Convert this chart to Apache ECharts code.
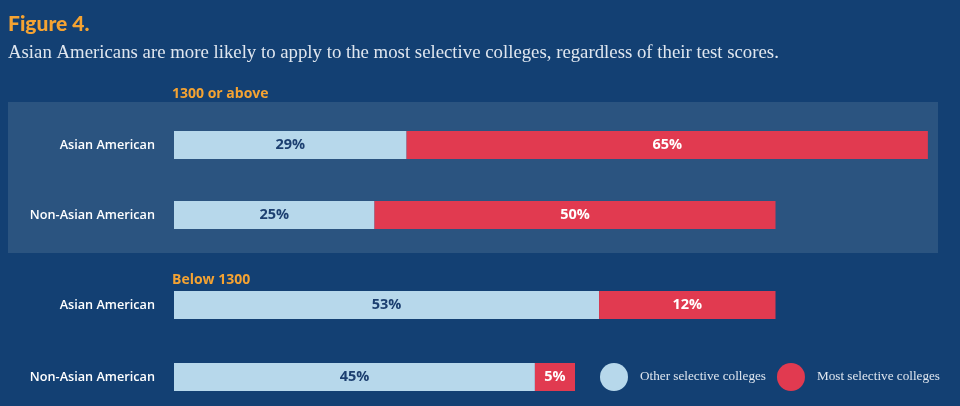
<!DOCTYPE html>
<html>
<head>
<meta charset="utf-8">
<script src="https://cdn.jsdelivr.net/npm/echarts@6/dist/echarts.min.js"></script>
<style>
html,body{margin:0;padding:0;background:#134073;}
#c{width:960px;height:406px;}
</style>
</head>
<body>
<div id="c"></div>
<script>
var categories = ['Asian American', 'Non-Asian American'];
var groupTitles = ['1300 or above', 'Below 1300'];
var otherTop = [29, 25];
var mostTop = [65, 50];
var otherBottom = [53, 45];
var mostBottom = [22, 5];
var otherTopLabels = ['29%', '25%'];
var mostTopLabels = ['65%', '50%'];
var otherBottomLabels = ['53%', '45%'];
var mostBottomLabels = ['12%', '5%'];
var seriesNames = ['Other selective colleges', 'Most selective colleges'];

var LIGHT = '#b7d8eb', RED = '#e13a50', ORANGE = '#f5a332';
var sans = '"Open Sans", sans-serif', serif = '"Liberation Serif", serif';

function barLabel(labels, color) {
  return {
    show: true, position: 'inside', color: color, fontFamily: sans,
    fontWeight: 700, fontSize: 14.5,
    formatter: function (p) { return labels[p.dataIndex]; }
  };
}

var chart = echarts.init(document.getElementById('c'));
var yAxisBase = {
  type: 'category', data: categories, inverse: true,
  axisLine: { show: false }, axisTick: { show: false },
  axisLabel: { color: '#ffffff', fontFamily: sans, fontWeight: 600, fontSize: 12.7, margin: 19 }
};
var xAxisBase = { type: 'value', min: 0, max: 100, show: false };

chart.setOption({
  backgroundColor: '#134073',
  animation: false,
  graphic: [
    { type: 'rect', z: -10, shape: { x: 8, y: 102, width: 930, height: 151 }, style: { fill: '#2b5480' } },
    { type: 'text', left: 8, top: 14, style: { text: 'Figure 4.', fill: ORANGE, font: '900 21px Lato, sans-serif' } },
    { type: 'text', left: 8, top: 44, style: { text: 'Asian Americans are more likely to apply to the most selective colleges, regardless of their test scores.', fill: '#dfe6ef', font: '18.8px ' + serif } },
    { type: 'text', left: 172, top: 87, style: { text: groupTitles[0], fill: ORANGE, font: '700 14px ' + sans } },
    { type: 'text', left: 172, top: 273, style: { text: groupTitles[1], fill: ORANGE, font: '700 14px ' + sans } }
  ],
  legend: {
    left: 600, top: 363, padding: 0, icon: 'circle', itemWidth: 28, itemHeight: 28, itemGap: 11,
    data: seriesNames,
    textStyle: { color: '#dfe6ef', fontFamily: serif, fontSize: 13.2, padding: [0, 0, 0, 7] }
  },
  grid: [
    { left: 174, top: 110, width: 802, height: 140, outerBoundsMode: 'none' },
    { left: 174, top: 269, width: 802, height: 144, outerBoundsMode: 'none' }
  ],
  xAxis: [
    Object.assign({ gridIndex: 0 }, xAxisBase),
    Object.assign({ gridIndex: 1 }, xAxisBase)
  ],
  yAxis: [
    Object.assign({ gridIndex: 0 }, yAxisBase),
    Object.assign({ gridIndex: 1 }, yAxisBase)
  ],
  series: [
    { name: seriesNames[0], type: 'bar', stack: 'a', xAxisIndex: 0, yAxisIndex: 0, barWidth: 28,
      data: otherTop, itemStyle: { color: LIGHT }, label: barLabel(otherTopLabels, '#1c3f70') },
    { name: seriesNames[1], type: 'bar', stack: 'a', xAxisIndex: 0, yAxisIndex: 0, barWidth: 28,
      data: mostTop, itemStyle: { color: RED }, label: barLabel(mostTopLabels, '#ffffff') },
    { name: seriesNames[0], type: 'bar', stack: 'b', xAxisIndex: 1, yAxisIndex: 1, barWidth: 28,
      data: otherBottom, itemStyle: { color: LIGHT }, label: barLabel(otherBottomLabels, '#1c3f70') },
    { name: seriesNames[1], type: 'bar', stack: 'b', xAxisIndex: 1, yAxisIndex: 1, barWidth: 28,
      data: mostBottom, itemStyle: { color: RED }, label: barLabel(mostBottomLabels, '#ffffff') }
  ]
});
</script>
</body>
</html>
